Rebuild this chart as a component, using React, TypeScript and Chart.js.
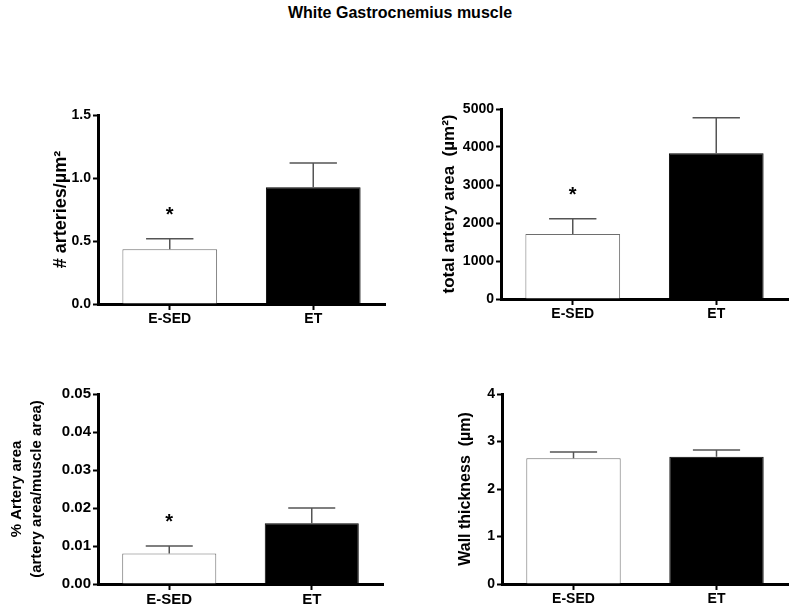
import React, { useEffect, useRef } from 'react';
import { Chart, registerables } from 'chart.js';

Chart.register(...registerables);

const FONT = '"Liberation Sans", Arial, Helvetica, sans-serif';

// ---- data ----
const categories = ['E-SED', 'ET'];

const densityMeans = [0.434, 0.926];
const densityErrors = [0.084, 0.193];
const densitySignificant = [true, false];

const areaMeans = [1711, 3834];
const areaErrors = [403, 938];
const areaSignificant = [true, false];

const percentMeans = [0.008, 0.016];
const percentErrors = [0.002, 0.004];
const percentSignificant = [true, false];

const wallMeans = [2.65, 2.68];
const wallErrors = [0.13, 0.14];
const wallSignificant = [false, false];

const barFills = ['#ffffff', '#000000'];
const barBorders = ['#6e6e6e', '#000000'];

const errorBarPlugin = {
  id: 'errorBars',
  afterDatasetsDraw(chart: any, _args: any, opts: any) {
    const { ctx } = chart;
    const y = chart.scales.y;
    const meta = chart.getDatasetMeta(0);
    const values = chart.data.datasets[0].data as number[];
    meta.data.forEach((bar: any, i: number) => {
      const v = values[i];
      const e = opts.errors[i];
      const px = bar.x;
      const yBase = y.getPixelForValue(v);
      const yTop = y.getPixelForValue(v + e);
      const half = bar.width / 4;
      ctx.save();
      ctx.strokeStyle = '#555555';
      ctx.lineWidth = 1.5;
      ctx.beginPath();
      ctx.moveTo(px, yBase);
      ctx.lineTo(px, yTop);
      ctx.moveTo(px - half, yTop);
      ctx.lineTo(px + half, yTop);
      ctx.stroke();
      if (opts.marks[i]) {
        ctx.fillStyle = '#000000';
        ctx.font = `bold 20px ${FONT}`;
        ctx.textAlign = 'center';
        ctx.textBaseline = 'alphabetic';
        ctx.fillText('*', px, yTop - 18);
      }
      ctx.restore();
    });
  },
};

type PanelSpec = {
  left: number;
  top: number;
  width: number;
  height: number;
  padTop: number;
  padRight: number;
  yAxisWidth: number;
  xAxisHeight: number;
  means: number[];
  errors: number[];
  marks: boolean[];
  yMax: number;
  yStep: number;
  decimals: number;
  title: string | string[];
  titleSize: number;
  titleLineHeight: number;
  titlePad: number;
  tickSize: number;
  xTickSize: number;
};

const panels: PanelSpec[] = [
  {
    left: 0, top: 90, width: 400, height: 245, padTop: 25, padRight: 15, yAxisWidth: 98, xAxisHeight: 31,
    means: densityMeans, errors: densityErrors, marks: densitySignificant,
    yMax: 1.5, yStep: 0.5, decimals: 1,
    title: '# arteries/µm²', titleSize: 18, titleLineHeight: 1.2, titlePad: 50, tickSize: 14, xTickSize: 14,
  },
  {
    left: 400, top: 85, width: 400, height: 245, padTop: 24, padRight: 12, yAxisWidth: 101, xAxisHeight: 31,
    means: areaMeans, errors: areaErrors, marks: areaSignificant,
    yMax: 5000, yStep: 1000, decimals: 0,
    title: 'total artery area  (µm²)', titleSize: 17, titleLineHeight: 1.2, titlePad: 39, tickSize: 14, xTickSize: 14,
  },
  {
    left: 0, top: 370, width: 400, height: 240, padTop: 24, padRight: 17, yAxisWidth: 98, xAxisHeight: 26,
    means: percentMeans, errors: percentErrors, marks: percentSignificant,
    yMax: 0.05, yStep: 0.01, decimals: 2,
    title: ['% Artery area', '(artery area/muscle area)'], titleSize: 15, titleLineHeight: 1.33, titlePad: 7, tickSize: 15, xTickSize: 15,
  },
  {
    left: 400, top: 370, width: 400, height: 240, padTop: 24, padRight: 12, yAxisWidth: 102, xAxisHeight: 26,
    means: wallMeans, errors: wallErrors, marks: wallSignificant,
    yMax: 4, yStep: 1, decimals: 0,
    title: 'Wall thickness  (µm)', titleSize: 16, titleLineHeight: 1.2, titlePad: 56, tickSize: 14, xTickSize: 14,
  },
];

function Panel({ spec }: { spec: PanelSpec }) {
  const ref = useRef<HTMLCanvasElement | null>(null);
  useEffect(() => {
    if (!ref.current) return;
    const chart = new Chart(ref.current, {
      type: 'bar',
      data: {
        labels: categories,
        datasets: [
          {
            data: spec.means,
            backgroundColor: barFills,
            borderColor: barBorders,
            borderWidth: 1,
            categoryPercentage: 1,
            barPercentage: 0.66,
          },
        ],
      },
      plugins: [errorBarPlugin],
      options: {
        responsive: false,
        animation: false,
        devicePixelRatio: 1,
        layout: { padding: { top: spec.padTop, right: spec.padRight, left: 0, bottom: 0 } },
        plugins: {
          legend: { display: false },
          tooltip: { enabled: false },
          title: { display: false },
          errorBars: { errors: spec.errors, marks: spec.marks },
        } as any,
        scales: {
          x: {
            z: 1,
            offset: true,
            grid: {
              display: true,
              offset: false,
              drawOnChartArea: false,
              drawTicks: true,
              tickLength: 6,
              tickWidth: 2,
              tickColor: '#000000',
            },
            border: { display: true, color: '#000000', width: 3 },
            ticks: {
              color: '#000000',
              padding: 1,
              font: { family: FONT, size: spec.xTickSize, weight: 'bold' },
            },
            afterFit: (s: any) => {
              s.height = spec.xAxisHeight;
            },
          },
          y: {
            z: 1,
            min: 0,
            max: spec.yMax,
            grid: {
              display: true,
              drawOnChartArea: false,
              drawTicks: true,
              tickLength: 5,
              tickWidth: 2,
              tickColor: '#000000',
            },
            border: { display: true, color: '#000000', width: 3 },
            ticks: {
              stepSize: spec.yStep,
              color: '#000000',
              padding: 2,
              font: { family: FONT, size: spec.tickSize, weight: 'bold' },
              callback: (v: any) => Number(v).toFixed(spec.decimals),
            },
            title: {
              display: true,
              text: spec.title,
              color: '#000000',
              padding: { top: spec.titlePad, bottom: 0 },
              font: { family: FONT, size: spec.titleSize, weight: 'bold', lineHeight: spec.titleLineHeight },
            },
            afterFit: (s: any) => {
              s.width = spec.yAxisWidth;
            },
          },
        },
      } as any,
    });
    return () => chart.destroy();
  }, [spec]);
  return (
    <canvas
      ref={ref}
      width={spec.width}
      height={spec.height}
      style={{ position: 'absolute', left: spec.left, top: spec.top, width: spec.width, height: spec.height }}
    />
  );
}

export default function App() {
  useEffect(() => {
    document.body.style.margin = '0';
    document.body.style.background = '#ffffff';
  }, []);
  return (
    <div style={{ position: 'relative', width: 800, height: 610, background: '#ffffff', overflow: 'hidden' }}>
      <div
        style={{
          position: 'absolute',
          left: 0,
          top: 3,
          width: 800,
          textAlign: 'center',
          fontFamily: FONT,
          fontWeight: 'bold',
          fontSize: 16,
          lineHeight: '19px',
          color: '#000000',
        }}
      >
        White Gastrocnemius muscle
      </div>
      {panels.map((p, i) => (
        <Panel key={i} spec={p} />
      ))}
    </div>
  );
}
